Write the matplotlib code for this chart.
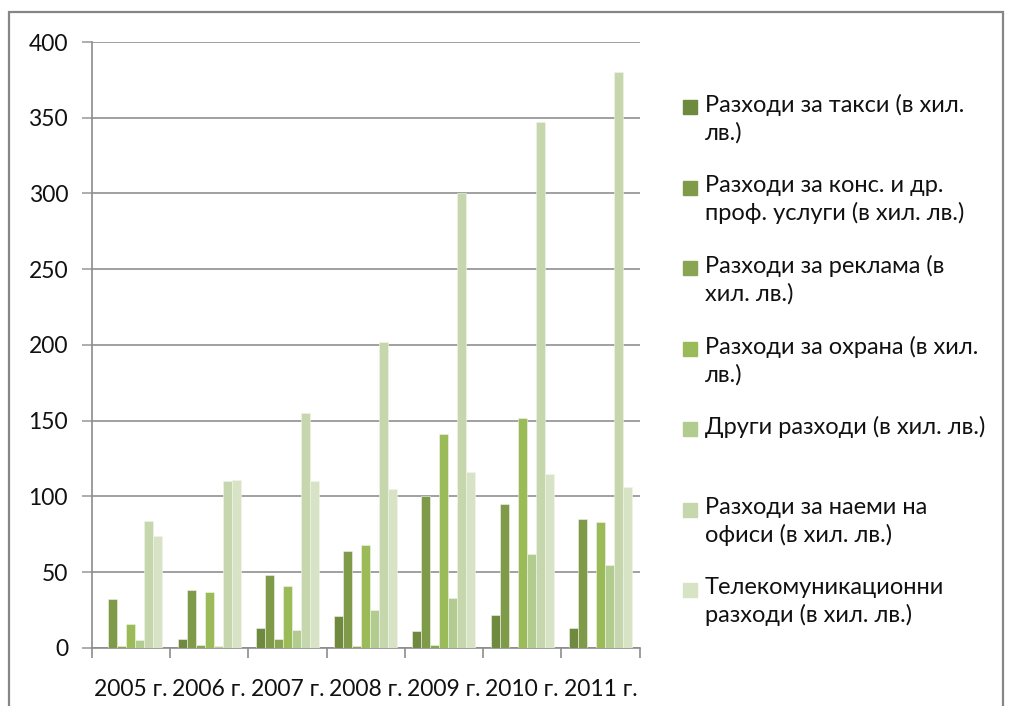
import matplotlib.pyplot as plt
from matplotlib.patches import Rectangle
import numpy as np

plt.rcParams['font.family'] = ['Lato', 'DejaVu Sans']

years = ["2005 г.", "2006 г.", "2007 г.", "2008 г.", "2009 г.", "2010 г.", "2011 г."]

taxi = [0, 6, 13, 21, 11, 22, 13]
consulting = [32, 38, 48, 64, 100, 95, 85]
advertising = [1, 2, 6, 1, 2, 0, 0]
security = [16, 37, 41, 68, 141, 152, 83]
other = [5, 1, 12, 25, 33, 62, 55]
rent = [84, 110, 155, 202, 300, 347, 380]
telecom = [74, 111, 110, 105, 116, 115, 106]

series = [taxi, consulting, advertising, security, other, rent, telecom]
labels = [
    "Разходи за такси (в хил.\nлв.)",
    "Разходи за конс. и др.\nпроф. услуги (в хил. лв.)",
    "Разходи за реклама (в\nхил. лв.)",
    "Разходи за охрана (в хил.\nлв.)",
    "Други разходи (в хил. лв.)",
    "Разходи за наеми на\nофиси (в хил. лв.)",
    "Телекомуникационни\nразходи (в хил. лв.)",
]
colors = ["#6f8a3e", "#7f9a49", "#89a551", "#9bbb59", "#b2cb8e", "#c6d7ad", "#d8e3c5"]

fig = plt.figure(figsize=(10.09, 7.06), dpi=100)
ax = fig.add_axes([0.0909, 0.0822, 0.543, 0.8583])

x = np.arange(len(years))
w = 0.115
for i, vals in enumerate(series):
    ax.bar(x - 3 * w + i * w, vals, width=w, color=colors[i],
           edgecolor="#f2f5ec", linewidth=0.4, zorder=3)

ax.set_xlim(-0.5, len(years) - 0.5)
ax.set_ylim(0, 400)
ax.set_yticks(range(0, 401, 50))
ax.grid(axis='y', color='#a0a0a0', linewidth=1.4, zorder=0)

ax.set_xticks(np.arange(len(years) + 1) - 0.5)
ax.set_xticklabels([])
ax.set_xticks(x, minor=True)
ax.set_xticklabels(years, minor=True)
ax.tick_params(axis='x', which='major', length=7, width=1.2, color='#8c8c8c')
ax.tick_params(axis='x', which='minor', length=0, pad=22, labelsize=16.5, labelcolor='#111111')
ax.tick_params(axis='y', length=7, width=1.2, color='#a0a0a0', pad=10,
               labelsize=16.5, labelcolor='#111111')

for s in ['top', 'right']:
    ax.spines[s].set_visible(False)
ax.spines['left'].set_color('#8c8c8c')
ax.spines['bottom'].set_color('#8c8c8c')
ax.spines['left'].set_linewidth(1.2)
ax.spines['bottom'].set_linewidth(1.2)

# legend, entries aligned to their first line
top = 1 - 94 / 706
step = 80.5 / 706
for i, lab in enumerate(labels):
    y = top - i * step
    fig.patches.append(Rectangle((683 / 1009, y - 20 / 706), 14 / 1009, 14 / 706,
                                 transform=fig.transFigure, color=colors[i]))
    fig.text(705 / 1009, y, lab, fontsize=17, color='#111111', va='top',
             linespacing=1.35)

# outer chart border
fig.patches.append(Rectangle((9 / 1009, -0.02), 994 / 1009, 1.02 - 12 / 706,
                             transform=fig.transFigure, fill=False,
                             edgecolor='#868686', linewidth=1.6))

fig.savefig("out.png", dpi=100)
